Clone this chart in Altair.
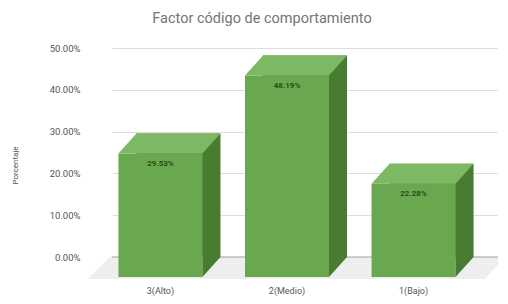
import altair as alt
import pandas as pd

categories = ["3(Alto)", "2(Medio)", "1(Bajo)"]
values = [29.53, 48.19, 22.28]
labels = ["29.53%", "48.19%", "22.28%"]
y_ticks = [0, 10, 20, 30, 40, 50]

df = pd.DataFrame({"cat": categories, "val": values, "lab": labels})

FRONT = "#6aa84f"
TOP = "#7db865"
SIDE = "#477c31"
DX, DY = 18, 20

x = alt.X("cat:N", sort=categories,
          scale=alt.Scale(paddingInner=0.35, paddingOuter=0.2),
          axis=alt.Axis(title=None, labelAngle=0, labelPadding=29, labelOffset=-DX,
                        ticks=False, domain=False, labelFont="Roboto",
                        labelFontSize=9, labelColor="#555555"))
y = alt.Y("val:Q", scale=alt.Scale(domain=[0, 50], nice=False),
          axis=alt.Axis(title="Porcentaje", values=y_ticks,
                        labelExpr="format(datum.value, '.2f') + '%'",
                        ticks=False, domain=False, labelPadding=32,
                        labelFont="Roboto", labelFontSize=9.5, labelColor="#555555",
                        titleFont="Roboto", titleFontSize=8, titleFontWeight="normal",
                        titleColor="#555555", gridColor="#dddddd",
                        titleX=-97, titleY=117, titleAngle=270,
                        titleAlign="center", titleBaseline="middle"))

base = alt.Chart(df)

floor_path = ("M-0.899,-0.0507 L0.922,-0.0507 L0.829,0.0507 L-1,0.0507 Z")
floor = alt.Chart(pd.DataFrame({"f": [0]})).mark_point(
    shape=floor_path, size=188356, filled=True, color="#eeeeee",
    opacity=1, strokeWidth=0
).encode(x=alt.value(193), y=alt.value(220))

zero = alt.Chart(pd.DataFrame({"z": [0]})).mark_rule(color="#9e9e9e", strokeWidth=1).encode(
    y=alt.Y("z:Q", scale=alt.Scale(domain=[0, 50], nice=False)))

back = base.mark_bar(size=84, color=SIDE).encode(x=x, y=y)
front = base.mark_bar(size=84, color=FRONT, xOffset=-DX, yOffset=DY).encode(x=x, y=y)

top_path = "M-1,0.196 L0.647,0.196 L1,-0.196 L-0.647,-0.196 Z"
top = base.mark_point(shape=top_path, size=10404, filled=True, color=TOP,
                      opacity=1, strokeWidth=0, xOffset=-DX / 2, yOffset=DY / 2
                      ).encode(x=x, y=y)

tri_path = "M0.571,0 L0.571,0.476 L1,0 Z"
bottom = base.mark_point(shape=tri_path, size=7056, filled=True, color=SIDE,
                         opacity=1, strokeWidth=0).encode(
    x=x, y=alt.datum(0))

text = base.mark_text(font="Roboto", fontSize=8, fontWeight="bold", color="#274e13",
                      xOffset=-DX, yOffset=DY + 10, baseline="middle").encode(
    x=x, y=y, text="lab:N")

chart = alt.layer(floor, zero, back, front, top, bottom, text).properties(
    width=386, height=209,
    autosize=alt.AutoSizeParams(type="none"),
    padding={"left": 104, "top": 40, "right": 0, "bottom": 46},
    title=alt.Title("Factor código de comportamiento", font="Roboto", fontSize=14.5,
                    fontWeight="normal", color="#757575", anchor="middle",
                    dx=-43, offset=3, baseline="bottom"),
).configure_view(stroke=None)

chart.save("out.html", embed_options={"renderer": "svg", "actions": False})
